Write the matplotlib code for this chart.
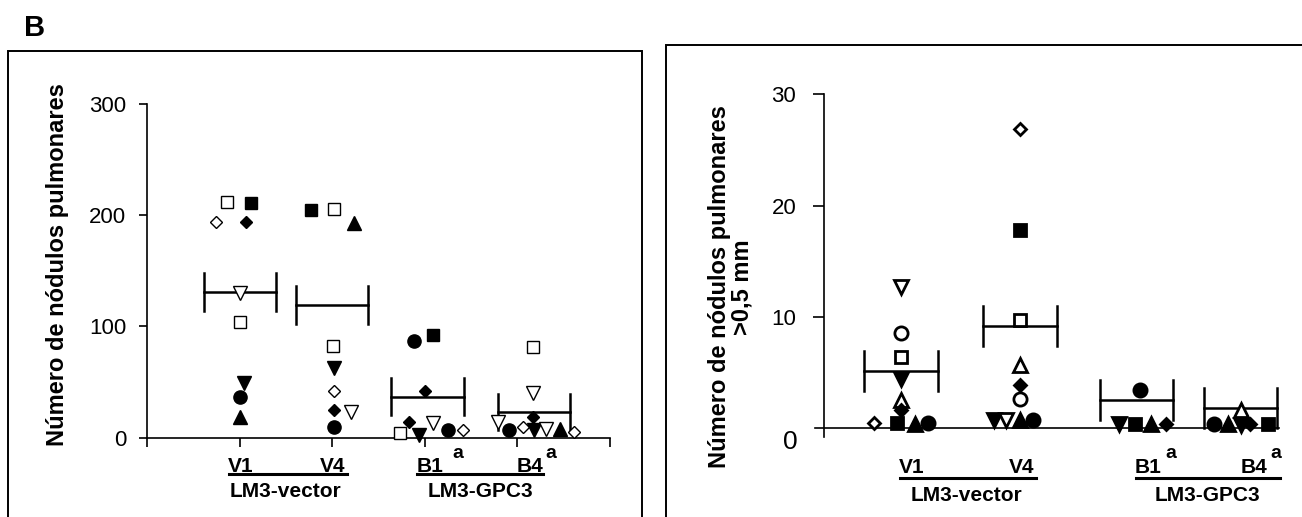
import matplotlib
matplotlib.use("Agg")
import matplotlib.pyplot as plt
from matplotlib.lines import Line2D
from matplotlib.patches import Rectangle

plt.rcParams['font.family'] = ['Liberation Sans', 'DejaVu Sans']

# ---- data: left panel (total nodules) ----
left_marker = ['s', 's', 'D', 'D', 'v', 's', 'v', 'o', '^',          # V1
               's', 's', '^', 's', 'v', 'D', 'D', 'v', 'o',          # V4
               'o', 's', 'D', 'D', 's', 'v', 'v', 'o', 'D',          # B1
               's', 'v', 'v', 'D', 'o', 'D', 'v', 'v', '^', 'D']     # B4
left_filled = [0, 1, 0, 1, 0, 0, 1, 1, 1,
               1, 0, 1, 0, 1, 0, 1, 0, 1,
               1, 1, 1, 1, 0, 1, 0, 1, 0,
               0, 0, 0, 1, 1, 0, 1, 0, 1, 0]
left_x = [0.86, 1.12, 0.74, 1.07, 1.0, 1.0, 1.045, 1.0, 1.0,
          1.77, 2.02, 2.23, 2.01, 2.02, 2.02, 2.02, 2.2, 2.02,
          2.885, 3.09, 3.0, 2.83, 2.73, 2.94, 3.09, 3.25, 3.41,
          4.17, 4.17, 3.79, 4.17, 3.91, 4.06, 4.18, 4.31, 4.46, 4.61]
left_y = [212, 211, 194, 194, 130, 104, 49, 37, 19,
          205, 206, 193, 82, 63, 42, 25, 23, 10,
          87, 92, 42, 14, 4, 2, 13, 7, 6.6,
          81.5, 40, 14, 19, 6.6, 10, 6.6, 8, 8, 5]
left_pos = [1.0, 2.0, 3.03, 4.18]
left_mean = [131, 119, 37, 23]
left_sem = [17, 17, 17, 16.5]

# ---- data: right panel (nodules > 0.5 mm) ----
right_marker = ['v', 'o', 's', 'v', '^', 'D', 'D', 's', '^', 'o',    # V1
                'D', 's', 's', '^', 'D', 'o', 'v', 'v', '^', 'o',    # V4
                'o', 'v', 's', '^', 'D',                             # B1
                '^', 'o', '^', 'v', 'D', 's']                        # B4
right_filled = [0, 0, 0, 1, 0, 1, 0, 1, 1, 1,
                0, 1, 0, 0, 1, 0, 1, 0, 1, 1,
                1, 1, 1, 1, 1,
                0, 1, 1, 1, 1, 1]
right_x = [1.0, 1.0, 1.0, 1.0, 1.0, 1.0, 0.775, 0.97, 1.12, 1.23,
           2.0, 2.0, 2.0, 2.0, 2.0, 2.0, 1.78, 1.88, 2.0, 2.11,
           3.01, 2.83, 2.97, 3.1, 3.23,
           3.86, 3.63, 3.75, 3.86, 3.94, 4.09]
right_y = [12.7, 8.5, 6.4, 4.4, 2.5, 1.6, 0.45, 0.45, 0.4, 0.45,
           26.9, 17.8, 9.7, 5.7, 3.9, 2.6, 0.7, 0.7, 0.7, 0.7,
           3.4, 0.4, 0.4, 0.4, 0.4,
           1.6, 0.4, 0.4, 0.25, 0.4, 0.4]
right_pos = [1.0, 2.0, 2.98, 3.855]
right_mean = [5.1, 9.2, 2.5, 1.8]
right_sem = [1.8, 1.8, 1.8, 1.8]

W, H = 1302, 517


def fx(px):
    return px / W


def fy(py):
    return 1 - py / H


sizes = {'s': 8.5, 'D': 6.5, 'v': 9.5, '^': 9.5, 'o': 9.5}

fig = plt.figure(figsize=(W / 100, H / 100), dpi=100)
fig.set_facecolor("white")

# panel frames
fig.patches.append(Rectangle((fx(8.4), -0.05), fx(642.3) - fx(8.4), fy(50.7) + 0.05,
                             transform=fig.transFigure, fill=False, lw=1.4, ec='black'))
fig.patches.append(Rectangle((fx(666), -0.05), 0.5, fy(45) + 0.05,
                             transform=fig.transFigure, fill=False, lw=1.4, ec='black'))
fig.text(fx(35), fy(28), "B", fontsize=21, fontweight='bold', ha='center', va='center')


def draw_points(ax, xs, ys, marks, filled, mew):
    for x, y, m, f in zip(xs, ys, marks, filled):
        ax.plot(x, y, marker=m, ms=sizes[m], ls='none',
                mfc='black' if f else 'white', mec='black', mew=mew,
                clip_on=False, zorder=3)


def draw_means(ax, pos, mean, sem, hw):
    for p, m, s in zip(pos, mean, sem):
        ax.plot([p - hw, p + hw], [m, m], color='black', lw=1.8, zorder=2, clip_on=False)
        ax.plot([p - hw, p - hw], [m - s, m + s], color='black', lw=1.8, zorder=2, clip_on=False)
        ax.plot([p + hw, p + hw], [m - s, m + s], color='black', lw=1.8, zorder=2, clip_on=False)


# ---- left panel ----
ax1 = fig.add_axes([fx(147.2), fy(437.7), fx(609.8) - fx(147.2), fy(104) - fy(437.7)])
ax1.set_xlim(0, 5)
ax1.set_ylim(0, 300)
ax1.spines["right"].set_visible(False)
ax1.spines["top"].set_visible(False)
for s in ["left", "bottom"]:
    ax1.spines[s].set_linewidth(1.2)
ax1.set_xticks(range(6))
ax1.set_xticklabels([])
ax1.set_yticks([0, 100, 200, 300])
ax1.tick_params(axis='y', length=6, width=1.2, pad=9, labelsize=16)
ax1.tick_params(axis='x', length=6.5, width=1.2)
ax1.patch.set_alpha(0)
draw_means(ax1, left_pos, left_mean, left_sem, 0.39)
draw_points(ax1, left_x, left_y, left_marker, left_filled, 1.0)

fig.text(fx(58), fy(264.5), "Número de nódulos pulmonares", rotation=90,
         ha='center', va='center', fontsize=17, fontweight='bold')

for lab, px in zip(["V1", "V4", "B1", "B4"], [240.5, 332.5, 430, 529.5]):
    fig.text(fx(px), fy(471.5), lab, ha='center', va='baseline', fontsize=15, fontweight='bold')
for px in [457.5, 550.5]:
    fig.text(fx(px), fy(453), "a", ha='center', va='center', fontsize=14, fontweight='bold')
fig.lines.append(Line2D([fx(229), fx(347)], [fy(474), fy(474)], transform=fig.transFigure, color='black', lw=2.2))
fig.lines.append(Line2D([fx(417), fx(543)], [fy(474), fy(474)], transform=fig.transFigure, color='black', lw=2.2))
fig.text(fx(285.5), fy(497), "LM3-vector", ha='center', va='baseline', fontsize=15, fontweight='bold')
fig.text(fx(480), fy(497), "LM3-GPC3", ha='center', va='baseline', fontsize=15, fontweight='bold')

# ---- right panel ----
ax2 = fig.add_axes([fx(824), fy(428), fx(1279) - fx(824), fy(94.3) - fy(428)])
ax2.set_xlim(0.352, 4.18)
ax2.set_ylim(0, 30)
for s in ["right", "top", "bottom", "left"]:
    ax2.spines[s].set_visible(False)
ax2.plot([0.352, 0.352], [-0.78, 30], color='black', lw=1.2, clip_on=False)
ax2.plot([0.276, 4.18], [0, 0], color='black', lw=1.2, clip_on=False)
ax2.set_xticks([])
ax2.set_yticks([10, 20, 30])
ax2.tick_params(axis='y', length=8, width=1.2, pad=12, labelsize=16)
ax2.annotate("0", xy=(0, 0), xycoords=('axes fraction', 'data'), xytext=(-24.5, -10),
             textcoords='offset points', ha='center', va='center', fontsize=19)
ax2.patch.set_alpha(0)
draw_means(ax2, right_pos, right_mean, right_sem, 0.31)
draw_points(ax2, right_x, right_y, right_marker, right_filled, 2.0)

fig.text(fx(731), fy(287), "Número de nódulos pulmonares\n>0,5 mm", rotation=90,
         ha='center', va='center', multialignment='center', linespacing=0.95,
         fontsize=17, fontweight='bold')

for lab, px in zip(["V1", "V4", "B1", "B4"], [912, 1022, 1148, 1254]):
    fig.text(fx(px), fy(473), lab, ha='center', va='baseline', fontsize=15, fontweight='bold')
for px in [1171, 1276]:
    fig.text(fx(px), fy(454), "a", ha='center', va='center', fontsize=14, fontweight='bold')
fig.lines.append(Line2D([fx(900), fx(1036)], [fy(478.3), fy(478.3)], transform=fig.transFigure, color='black', lw=2.2))
fig.lines.append(Line2D([fx(1136), fx(1280)], [fy(478.3), fy(478.3)], transform=fig.transFigure, color='black', lw=2.2))
fig.text(fx(967), fy(501), "LM3-vector", ha='center', va='baseline', fontsize=15, fontweight='bold')
fig.text(fx(1207), fy(501), "LM3-GPC3", ha='center', va='baseline', fontsize=15, fontweight='bold')

fig.savefig("out.png", dpi=100, facecolor="white")
